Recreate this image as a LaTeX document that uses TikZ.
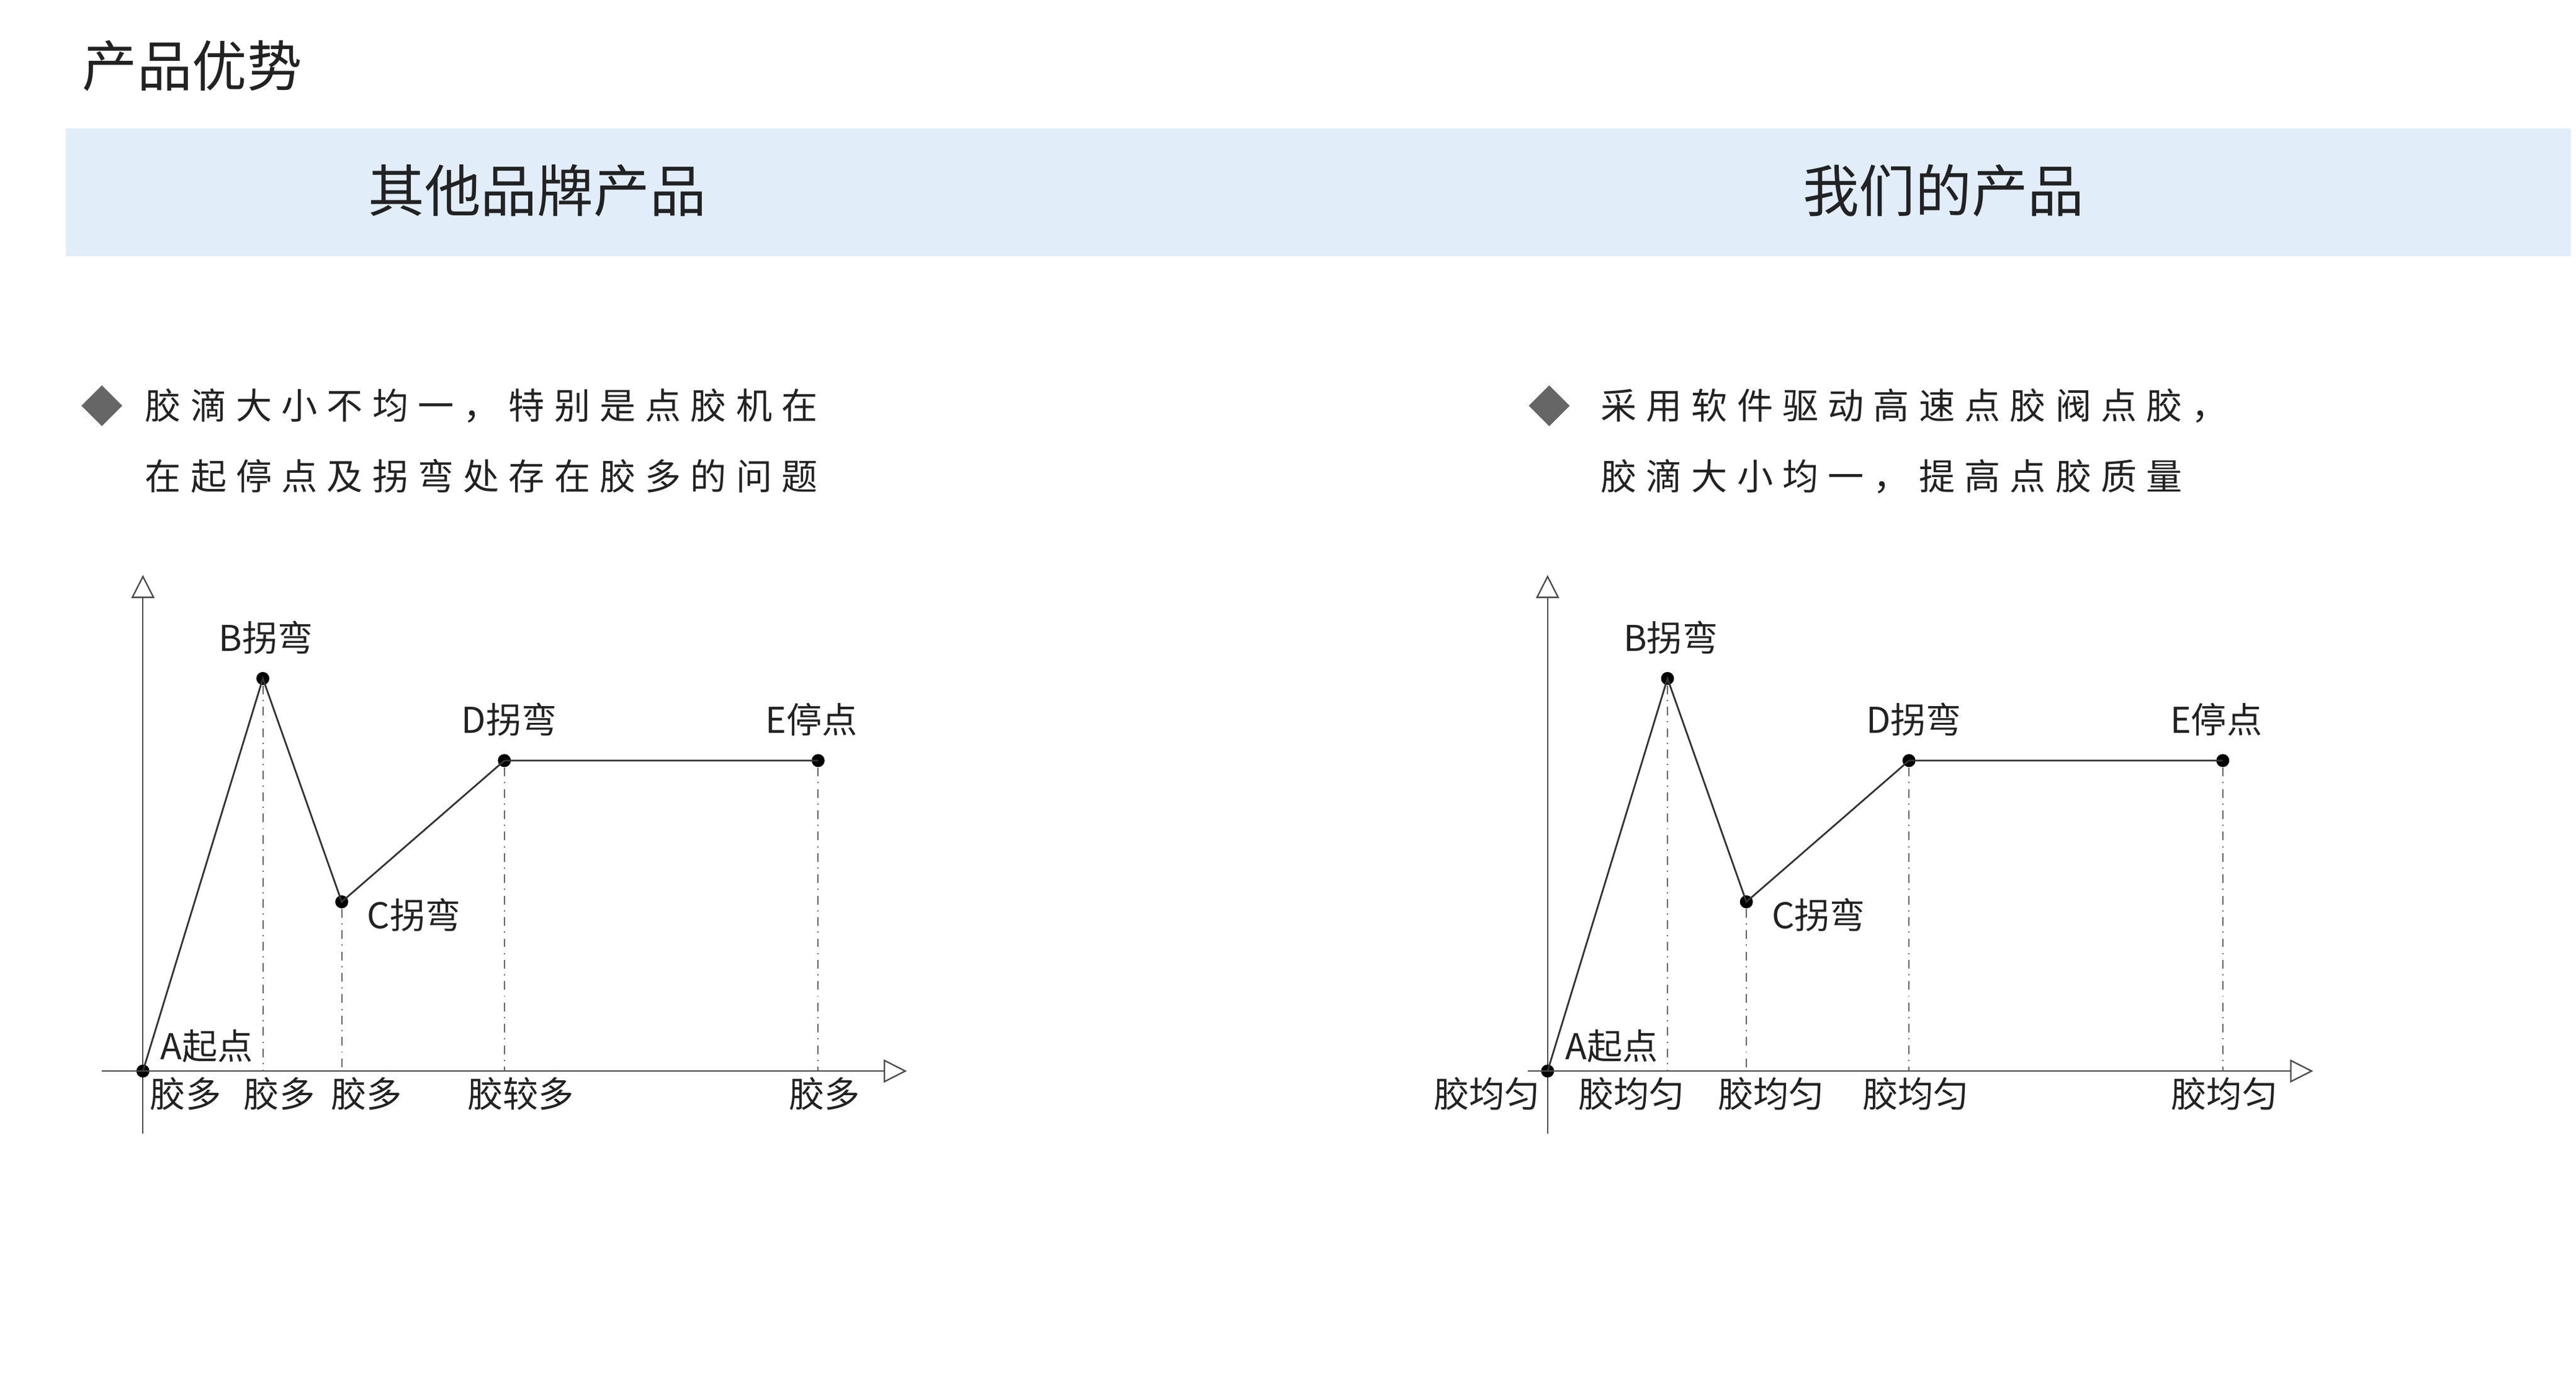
\documentclass[tikz,border=0pt]{standalone}
\usepackage{fontspec}
\setmainfont{Noto Sans CJK SC}
\newfontfamily\cjk{Noto Sans CJK SC}
\newfontfamily\cjksp[LetterSpace=26]{Noto Sans CJK SC}
\usetikzlibrary{arrows.meta}
\definecolor{band}{HTML}{E1EEF9}
\definecolor{txt}{HTML}{222222}
\begin{document}
\begin{tikzpicture}[x=0.02cm,y=-0.02cm,
  axis/.style={draw=black!70,line width=0.5pt,-{Triangle[open,length=8pt,width=8pt]}},
  curve/.style={draw=black!80,line width=0.6pt},
  guide/.style={draw=black!60,line width=0.4pt,dash dot},
  pt/.style={circle,fill=black,inner sep=0pt,minimum size=4.5pt},
  lab/.style={font=\fontsize{12.3pt}{14pt}\selectfont,text=txt,inner sep=1pt},
  bul/.style={font=\fontsize{12.5pt}{15pt}\cjksp,text=txt,anchor=west,inner sep=0pt},
  dia/.style={fill=black!60,inner sep=0pt,rotate=45,shape=rectangle,minimum size=10pt}]
\useasboundingbox (0,0) rectangle (1568,840);
\node[anchor=west,font=\fontsize{19pt}{22pt}\selectfont,text=txt] (title) at (44,40) {产品优势};
\fill[band] (40,78) rectangle (1565,156);
\node[font=\fontsize{19.5pt}{22pt}\selectfont,text=txt] (h1) at (327,116) {其他品牌产品};
\node[font=\fontsize{19.5pt}{22pt}\selectfont,text=txt] (h2) at (1183,116) {我们的产品};
% bullets
\node[dia] (d1) at (62,247) {};
\node[bul] (t1a) at (88,247) {胶滴大小不均一，特别是点胶机在};
\node[bul] (t1b) at (88,290) {在起停点及拐弯处存在胶多的问题};
\node[dia] (d2) at (943,247) {};
\node[bul] (t2a) at (974,247) {采用软件驱动高速点胶阀点胶，};
\node[bul] (t2b) at (974,290) {胶滴大小均一，提高点胶质量};
% charts
\foreach \ox/\side in {0/L,855/R}{
  \begin{scope}[xshift=\ox*0.02cm]
  \coordinate (yb\side) at (87,690); \coordinate (yt\side) at (87,350);
  \draw[axis] (yb\side) -- (yt\side);
  \node[pt] (A\side) at (87,652) {};
  \node[pt] (B\side) at (160,413) {};
  \node[pt] (C\side) at (208,549) {};
  \node[pt] (D\side) at (307,463) {};
  \node[pt] (E\side) at (498,463) {};
  \foreach \p/\xx in {B/160,C/208,D/307,E/498}{
    \coordinate (g\p\side) at (\xx,652);
    \draw[guide] (\p\side) -- (g\p\side);}
  \draw[curve] (A\side.center) -- (B\side.center) -- (C\side.center) -- (D\side.center) -- (E\side.center);
  \node[lab] (lB\side) at (162,388) {B拐弯};
  \node[lab] (lD\side) at (310,438) {D拐弯};
  \node[lab] (lE\side) at (494,438) {E停点};
  \node[lab] (lC\side) at (252,557) {C拐弯};
  \node[lab] (lA\side) at (126,637) {A起点};
  \end{scope}}
\coordinate (xlL) at (62,652); \coordinate (xrL) at (552,652);
\draw[axis] (xlL) -- (xrL);
\coordinate (xlR) at (930,652); \coordinate (xrR) at (1408,652);
\draw[axis] (xlR) -- (xrR);
\foreach \xx/\t [count=\i] in {113/胶多,170/胶多,223/胶多,317/胶较多,502/胶多}
  \node[lab] (bl\i) at (\xx,666) {\t};
\foreach \xx [count=\i] in {905,993,1078,1166,1354}
  \node[lab] (br\i) at (\xx,666) {胶均匀};
\end{tikzpicture}
\end{document}
